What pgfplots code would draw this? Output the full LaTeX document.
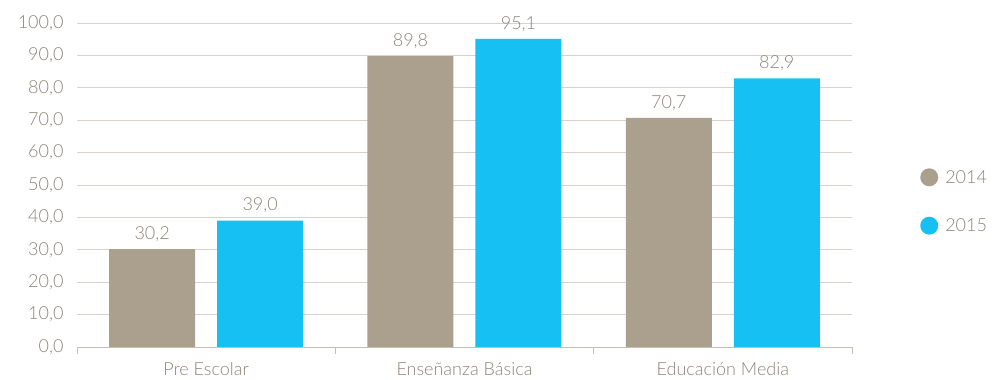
\documentclass[border=0pt]{standalone}
\usepackage{fontspec}
\setmainfont{Lato}[UprightFont=* Light]
\usepackage{pgfplots}
\pgfplotsset{compat=1.18}
\definecolor{cA}{HTML}{ABA08D}
\definecolor{cB}{HTML}{16C0F2}
\definecolor{txt}{HTML}{8C8378}
\definecolor{grd}{HTML}{D8D2CA}
\definecolor{axl}{HTML}{C6BEB2}
\begin{document}
\begin{tikzpicture}[x=1pt,y=1pt]
\begin{axis}[
  scale only axis, width=775pt, height=324pt,
  xmin=-0.5, xmax=2.5, ymin=0, ymax=100,
  xtick={-0.5,0.5,1.5,2.5}, xticklabels={},
  extra x ticks={0,1,2}, extra x tick labels={Pre Escolar,Enseñanza Básica,Educación Media},
  extra x tick style={xtick style={draw=none}, grid=none},
  xtick style={draw=axl, line width=0.8pt},
  tick align=outside, major tick length=7pt,
  ytick={0,10,...,100},
  ymajorgrids, grid style={draw=grd, line width=0.8pt},
  axis x line*=bottom, axis y line*=left,
  x axis line style={draw=axl, line width=0.8pt, -},
  y axis line style={draw=none},
  ytick style={draw=none},
  yticklabel style={/pgf/number format/fixed, /pgf/number format/fixed zerofill, /pgf/number format/precision=1, /pgf/number format/use comma, /pgf/number format/assume math mode=true, xshift=-3pt},
  every tick label/.append style={font=\fontsize{18}{21}\selectfont, text=txt},
  xticklabel style={yshift=-5pt},
  ybar, bar width=86pt,
  nodes near coords={\pgfmathprintnumber[fixed, fixed zerofill, precision=1, use comma, assume math mode=true]{\pgfplotspointmeta}},
  nodes near coords style={font=\fontsize{18}{21}\selectfont, text=txt, yshift=4pt},
  legend style={at={(1.084,0.449)}, anchor=west, draw=none, fill=none, font=\fontsize{18}{21}\selectfont, text=txt, row sep=30pt},
  legend cell align=left,
  legend image code/.code={\fill[#1] (0pt,0pt) circle (9pt); \path (9pt,0pt) -- (14pt,0pt);},
  clip=false,
]
\addplot[fill=cA, draw=none, bar shift=-54pt] coordinates {(0,30.2) (1,89.8) (2,70.7)};
\addplot[fill=cB, draw=none, bar shift=54pt] coordinates {(0,39.0) (1,95.1) (2,82.9)};
\legend{2014,2015}
\end{axis}
\useasboundingbox (-77pt,-33pt) rectangle (915pt,347pt);
\end{tikzpicture}
\end{document}
